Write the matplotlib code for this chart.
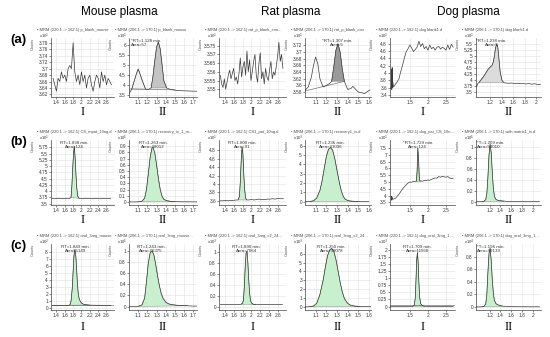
import numpy as np
import matplotlib.pyplot as plt
import matplotlib.transforms as mtrans

plt.rcParams['font.family'] = ['Liberation Sans', 'DejaVu Sans']

# ---- blank plasma (row a) ----
a1_x = [1.32,1.36,1.40,1.44,1.48,1.52,1.56,1.60,1.64,1.68,1.72,1.76,1.80,1.84,1.88,1.92,1.96,2.00,2.04,2.08,2.12,2.16,2.20,2.24,2.28,2.32,2.36,2.40,2.44,2.48,2.52,2.56,2.60,2.64,2.68,2.72]
a1_y = [3.67,3.65,3.63,3.67,3.66,3.69,3.67,3.68,3.66,3.70,3.71,3.70,3.78,3.69,3.66,3.68,3.65,3.69,3.66,3.68,3.64,3.67,3.68,3.65,3.63,3.66,3.68,3.67,3.64,3.69,3.66,3.68,3.65,3.67,3.66,3.65]
a2_x = [1.00,1.03,1.06,1.08,1.10,1.12,1.15,1.18,1.21,1.24,1.26,1.28,1.30,1.32,1.34,1.36,1.38,1.41,1.45,1.50,1.55,1.60,1.65,1.70,1.74]
a2_y = [3.55,3.80,4.25,4.55,4.80,4.55,4.15,3.80,3.78,3.85,4.40,5.20,5.90,6.15,5.80,5.00,4.20,3.85,3.78,3.74,3.72,3.71,3.70,3.69,3.69]
a3_x = [1.30,1.33,1.36,1.39,1.42,1.45,1.48,1.51,1.54,1.57,1.60,1.63,1.66,1.69,1.72,1.75,1.78,1.81,1.84,1.87,1.90,1.93,1.96,1.99,2.02,2.05,2.08,2.11,2.14,2.17,2.20,2.23,2.26,2.29,2.32,2.35,2.38,2.41,2.44,2.47,2.50,2.53,2.56,2.59,2.62,2.65,2.68,2.71]
a3_y = [3.558,3.553,3.551,3.556,3.550,3.554,3.558,3.561,3.556,3.559,3.562,3.555,3.557,3.553,3.559,3.568,3.557,3.563,3.566,3.558,3.572,3.560,3.567,3.555,3.560,3.566,3.570,3.558,3.554,3.565,3.571,3.556,3.560,3.553,3.562,3.557,3.555,3.561,3.566,3.556,3.560,3.558,3.563,3.569,3.577,3.566,3.570,3.562]
a4_x = [1.00,1.03,1.06,1.08,1.10,1.12,1.14,1.17,1.20,1.23,1.25,1.27,1.29,1.31,1.33,1.35,1.37,1.40,1.43,1.45,1.47,1.50,1.53,1.56,1.58,1.61]
a4_y = [3.585,3.595,3.625,3.660,3.685,3.665,3.620,3.595,3.600,3.605,3.612,3.655,3.705,3.725,3.700,3.650,3.612,3.588,3.590,3.597,3.590,3.580,3.578,3.575,3.580,3.586]
a5_x = [0.98,0.99,1.00,1.01,1.02,1.03,1.05,1.10,1.15,1.20,1.25,1.30,1.35,1.40,1.45,1.50,1.55,1.60,1.65,1.70,1.75,1.80,1.85,1.90,1.95,2.00,2.05,2.10,2.15,2.20,2.25,2.30,2.35,2.40,2.45,2.50,2.55,2.60,2.65,2.70]
a5_y = [3.60,4.10,3.55,4.15,3.60,3.75,3.62,3.70,3.76,3.85,4.05,4.22,4.42,4.58,4.66,4.76,4.68,4.58,4.64,4.70,4.86,4.72,4.80,4.66,4.72,4.62,4.76,4.66,4.70,4.62,4.70,4.72,4.65,4.70,4.67,4.62,4.76,4.64,4.78,4.70]
a6_x = [0.96,0.98,1.00,1.04,1.08,1.12,1.16,1.20,1.23,1.25,1.27,1.29,1.31,1.33,1.35,1.37,1.40,1.43,1.47,1.52,1.57,1.62,1.67,1.72,1.77,1.82,1.87,1.92,1.97,2.02,2.07]
a6_y = [3.72,3.85,3.90,4.02,4.15,4.30,4.45,4.55,4.62,4.75,5.00,5.35,5.50,5.35,4.85,4.35,4.00,3.90,3.88,3.87,3.88,3.86,3.87,3.85,3.86,3.84,3.86,3.83,3.85,3.82,3.83]

# ---- spiked plasma (row b) ----
b1_x = [1.30,1.36,1.42,1.48,1.54,1.60,1.66,1.71,1.75,1.77,1.79,1.81,1.83,1.85,1.87,1.89,1.91,1.94,1.98,2.04,2.10,2.16,2.22,2.28,2.34,2.40,2.46,2.52,2.58,2.64,2.70]
b1_y = [3.70,3.69,3.71,3.70,3.69,3.70,3.71,3.70,3.74,4.20,4.90,5.50,5.80,5.30,4.60,4.10,3.80,3.71,3.70,3.69,3.71,3.70,3.70,3.69,3.71,3.70,3.69,3.70,3.71,3.70,3.69]
b2_x = [1.00,1.05,1.10,1.14,1.17,1.19,1.21,1.23,1.25,1.26,1.28,1.30,1.32,1.34,1.36,1.38,1.41,1.45,1.50,1.55,1.60,1.65,1.70,1.74]
b2_y = [0.000,0.000,0.002,0.010,0.060,0.200,0.450,0.720,0.870,0.880,0.800,0.600,0.380,0.200,0.090,0.040,0.020,0.010,0.005,0.003,0.002,0.002,0.001,0.001]
b3_x = [1.30,1.36,1.42,1.48,1.54,1.60,1.66,1.70,1.73,1.75,1.77,1.79,1.81,1.83,1.85,1.87,1.90,1.94,2.00,2.06,2.12,2.18,2.24,2.30,2.36,2.42,2.48,2.54,2.60,2.66,2.72]
b3_y = [3.60,3.60,3.61,3.60,3.61,3.61,3.62,3.62,3.70,4.05,4.55,4.88,4.70,4.20,3.85,3.66,3.62,3.62,3.63,3.62,3.63,3.64,3.63,3.63,3.64,3.64,3.65,3.64,3.66,3.65,3.65]
b4_x = [1.00,1.04,1.08,1.11,1.14,1.16,1.18,1.20,1.22,1.24,1.26,1.28,1.30,1.32,1.34,1.36,1.38,1.41,1.45,1.50,1.55,1.60]
b4_y = [0.00,0.02,0.10,0.40,1.20,2.20,3.50,4.80,5.60,5.80,5.50,4.60,3.40,2.20,1.20,0.55,0.25,0.10,0.05,0.03,0.02,0.02]
b5_x = [0.98,0.99,1.00,1.01,1.03,1.06,1.10,1.15,1.20,1.25,1.30,1.35,1.40,1.45,1.50,1.55,1.60,1.65,1.68,1.70,1.72,1.74,1.76,1.78,1.81,1.85,1.90,1.95,2.00,2.05,2.10,2.15,2.20,2.25,2.30,2.35,2.40,2.45,2.50,2.55,2.60,2.65,2.70]
b5_y = [3.70,3.95,3.65,3.90,3.72,3.75,3.80,3.95,4.10,4.30,4.50,4.65,4.80,4.92,5.00,4.98,5.05,5.02,5.05,5.80,7.50,6.80,5.40,5.05,5.08,5.05,5.12,5.10,5.15,5.12,5.20,5.25,5.30,5.28,5.40,5.35,5.42,5.38,5.35,5.40,5.30,5.25,5.28]
b6_x = [0.96,1.00,1.05,1.10,1.13,1.15,1.17,1.19,1.21,1.23,1.25,1.27,1.29,1.31,1.34,1.38,1.42,1.47,1.55,1.65,1.75,1.85,1.95,2.05,2.12]
b6_y = [0.00,0.00,0.00,0.01,0.04,0.15,0.45,0.85,1.04,0.90,0.55,0.25,0.10,0.05,0.03,0.02,0.015,0.01,0.005,0.003,0.002,0.002,0.001,0.001,0.001]

# ---- oral dosing samples (row c) ----
c1_x = [1.30,1.40,1.50,1.60,1.66,1.72,1.75,1.78,1.80,1.82,1.84,1.86,1.88,1.90,1.92,1.94,1.97,2.00,2.04,2.08,2.14,2.20,2.30,2.40,2.50,2.60,2.70]
c1_y = [0.30,0.30,0.30,0.30,0.31,0.35,0.90,2.80,5.20,7.40,8.30,7.80,6.00,3.80,2.20,1.40,0.90,0.65,0.50,0.42,0.38,0.35,0.33,0.32,0.32,0.31,0.31]
c2_x = [1.00,1.05,1.10,1.14,1.17,1.19,1.21,1.23,1.25,1.27,1.29,1.31,1.33,1.35,1.37,1.40,1.43,1.47,1.52,1.58,1.64,1.70,1.74]
c2_y = [0.000,0.000,0.005,0.030,0.150,0.450,0.780,0.960,1.000,0.930,0.760,0.560,0.380,0.240,0.150,0.080,0.050,0.035,0.025,0.020,0.015,0.010,0.010]
c3_x = [1.30,1.40,1.50,1.60,1.70,1.76,1.80,1.82,1.84,1.86,1.88,1.90,1.92,1.94,1.96,1.98,2.01,2.05,2.10,2.20,2.30,2.40,2.50,2.60,2.70]
c3_y = [0.04,0.04,0.04,0.04,0.04,0.045,0.06,0.12,0.35,0.72,0.98,1.02,0.82,0.50,0.25,0.11,0.06,0.045,0.04,0.04,0.04,0.04,0.04,0.04,0.04]
c4_x = [1.00,1.04,1.08,1.11,1.14,1.17,1.19,1.21,1.23,1.25,1.27,1.29,1.31,1.33,1.35,1.37,1.40,1.43,1.47,1.52,1.57,1.62]
c4_y = [0.00,0.02,0.10,0.40,1.40,3.00,4.40,5.70,6.40,6.60,6.30,5.40,4.10,2.80,1.70,0.95,0.40,0.18,0.09,0.05,0.04,0.03]
c5_x = [0.96,1.00,1.10,1.20,1.30,1.40,1.50,1.58,1.62,1.65,1.67,1.69,1.71,1.73,1.75,1.77,1.80,1.85,1.90,2.00,2.10,2.20,2.30,2.40,2.50,2.60,2.70]
c5_y = [0.00,0.00,0.00,0.00,0.00,0.00,0.00,0.01,0.04,0.30,0.95,1.65,1.90,1.55,0.85,0.35,0.10,0.03,0.01,0.01,0.00,0.00,0.00,0.00,0.00,0.00,0.00]
c6_x = [0.96,1.00,1.05,1.10,1.13,1.15,1.17,1.19,1.21,1.23,1.25,1.27,1.29,1.32,1.36,1.40,1.45,1.55,1.65,1.75,1.85,1.95,2.05,2.12]
c6_y = [0.00,0.00,0.00,0.01,0.05,0.20,0.55,0.85,0.93,0.75,0.45,0.22,0.10,0.05,0.03,0.02,0.01,0.005,0.003,0.002,0.002,0.001,0.001,0.001]

# tick positions
xt_I = [1.4,1.6,1.8,2.0,2.2,2.4,2.6]
xt_mII = [1.1,1.2,1.3,1.4,1.5,1.6,1.7]
xt_rII = [1.1,1.2,1.3,1.4,1.5,1.6]
xt_dI = [1.5,2.0,2.5]
xt_dII = [1.2,1.4,1.6,1.8,2.0]

col_names = ['Mouse plasma', 'Rat plasma', 'Dog plasma']
row_labels = ['(a)', '(b)', '(c)']
roman = ['I', 'II', 'I', 'II', 'I', 'II']

T1 = u'\u2022 MRM (220.1 -> 162.1) '
T2 = u'\u2022 MRM (206.1 -> 170.1) '

# (row, col, x, y, fills, baseline, xlim, ylim, xticks, yticks, title, exponent, annotation, annot_x, annot_ha)
panels = [
    (0, 0, a1_x, a1_y, [], None, (1.27,2.78), (3.612,3.795), xt_I, [3.62,3.64,3.66,3.68,3.70,3.72,3.74,3.76,3.78], T1+'p_blank_mouse', 1, '', 0, 'center'),
    (0, 1, a2_x, a2_y, [(1,8,'#f2f2f2'),(9,18,'#c4c4c4')], ([1.0,1.5],[3.80,3.76]), (1.0,1.74), (3.4,6.35), xt_mII, [3.5,4,4.5,5,5.5,6], T2+'p_blank_mouse', 1, '*RT=1.128 min.\nArea=57', 1.02, 'left'),
    (0, 2, a3_x, a3_y, [], None, (1.27,2.78), (3.5455,3.5795), xt_I, [3.55,3.555,3.56,3.565,3.57,3.575], T1+'rat_p_blank_con...', 1, '', 0, 'center'),
    (0, 3, a4_x, a4_y, [(10,17,'#9a9a9a')], ([1.0,1.37],[3.583,3.612]), (1.0,1.62), (3.565,3.742), xt_rII, [3.58,3.60,3.62,3.64,3.66,3.68,3.70,3.72], T2+'rat_p_blank_con', 1, '*RT=1.307 min.\nArea=5', 1.30, 'center'),
    (0, 4, a5_x, a5_y, [], None, (0.95,2.75), (3.35,4.95), xt_dI, [3.4,3.6,3.8,4.0,4.2,4.4,4.6,4.8], T1+'dog blank1.d', 1, '', 0, 'center'),
    (0, 5, a6_x, a6_y, [(2,18,'#dcdcdc')], None, (0.95,2.08), (3.3,5.75), xt_dII, [3.5,3.75,4,4.25,4.5,4.75,5,5.25,5.5], T2+'dog blank1.d', 1, '*RT=1.238 min.\nArea=5', 1.22, 'center'),
    (1, 0, b1_x, b1_y, [(8,18,'#c8f0cf')], None, (1.27,2.78), (3.44,6.05), xt_I, [3.5,3.75,4,4.25,4.5,4.75,5,5.25,5.5,5.75], T1+'CS_mpat_10ng.d', 1, 'RT=1.838 min.\nArea=124', 1.83, 'center'),
    (1, 1, b2_x, b2_y, [(2,19,'#c8f0cf')], None, (1.0,1.74), (-0.05,1.0), xt_mII, [0,0.1,0.2,0.3,0.4,0.5,0.6,0.7,0.8,0.9], T2+'recovery_is_1_m...', 5, 'RT=1.263 min.\nArea=48012', 1.26, 'center'),
    (1, 2, b3_x, b3_y, [(7,17,'#c8f0cf')], None, (1.27,2.78), (3.5,5.05), xt_I, [3.6,3.8,4.0,4.2,4.4,4.6,4.8], T1+'CS1_pat_10ng.d', 1, 'RT=1.800 min.\nArea=91', 1.80, 'center'),
    (1, 3, b4_x, b4_y, [(1,20,'#c8f0cf')], None, (1.0,1.62), (-0.35,6.6), xt_rII, [0,1,2,3,4,5,6], T2+'recovery1_is.d', 3, 'RT=1.236 min.\nArea=31036', 1.24, 'center'),
    (1, 4, b5_x, b5_y, [(18,24,'#b8e8c0')], None, (0.95,2.75), (3.3,8.1), xt_dI, [3.5,4,4.5,5,5.5,6,6.5,7,7.5], T1+'dog_pat_CS_10n...', 1, '*RT=1.729 min.\nArea=124', 1.72, 'center'),
    (1, 5, b6_x, b6_y, [(2,18,'#c8f0cf')], None, (0.95,2.15), (-0.06,1.12), xt_dII, [0,0.2,0.4,0.6,0.8,1.0], T2+'with matrix1_is.d', 5, '*T=1.209 min.\nArea=53010', 0.97, 'left'),
    (2, 0, c1_x, c1_y, [(5,22,'#c8f0cf')], ([1.27,2.78],[0.42,0.42]), (1.27,2.78), (-0.35,9.1), xt_I, [0,1,2,3,4,5,6,7,8], T1+'oral_3mg_mouse', 2, 'RT=1.849 min.\nArea=5149', 1.85, 'center'),
    (2, 1, c2_x, c2_y, [(2,21,'#c8f0cf')], None, (1.0,1.74), (-0.06,1.12), xt_mII, [0,0.2,0.4,0.6,0.8,1.0], T2+'oral_3mg_mouse...', 5, 'RT=1.243 min.\nArea=76375', 1.24, 'center'),
    (2, 2, c3_x, c3_y, [(5,19,'#c8f0cf')], None, (1.27,2.78), (-0.06,1.15), xt_I, [0,0.2,0.4,0.6,0.8,1.0], T1+'oral_3mg_c2_24...', 3, 'RT=1.890 min.\nArea=7064', 1.89, 'center'),
    (2, 3, c4_x, c4_y, [(1,20,'#c8f0cf')], None, (1.0,1.62), (-0.35,7.1), xt_rII, [0,1,2,3,4,5,6], T2+'oral_3mg_c2_24...', 3, 'RT=1.250 min.\nArea=39078', 1.25, 'center'),
    (2, 4, c5_x, c5_y, [(7,19,'#c8f0cf')], ([0.95,2.75],[0.07,0.07]), (0.95,2.75), (-0.12,2.2), xt_dI, [0,0.25,0.5,0.75,1,1.25,1.5,1.75,2], T1+'dog_oral_3mg_1...', 3, 'RT=1.709 min.\nArea=11550', 1.71, 'center'),
    (2, 5, c6_x, c6_y, [(2,17,'#c8f0cf')], None, (0.95,2.15), (-0.05,1.0), xt_dII, [0,0.2,0.4,0.6,0.8], T2+'dog_oral_3mg_1...', 4, '*T=1.196 min.\nArea=49139', 0.97, 'left'),
]

W, H = 550, 337
col_l = [51, 129, 219, 305, 390, 476]
col_r = [114, 197, 286, 371, 455, 541]
row_t = [38, 140, 244]
row_b = [97, 205, 310]
row_title = [30, 132, 236]
row_roman = [112, 220, 327]

fig = plt.figure(figsize=(5.5, 3.37), dpi=100)

def rect(l, t, r, b):
    return [l/W, 1 - b/H, (r - l)/W, (b - t)/H]

for (row, col, x, y, fills, base, xlim, ylim, xt, yt, title, expo, annot, ax_x, ha) in panels:
    ax = fig.add_axes(rect(col_l[col], row_t[row], col_r[col], row_b[row]))
    x = np.array(x)
    y = np.array(y)
    for (i0, i1, fc) in fills:
        ax.fill(x[i0:i1], y[i0:i1], facecolor=fc, edgecolor='#6a8a6a' if row > 0 else '#777777', lw=0.3, zorder=2)
    if base is not None:
        ax.plot(base[0], base[1], color='#555555', lw=0.4, zorder=3)
    ax.plot(x, y, color='#3a3a3a', lw=0.5, zorder=4)
    ax.set_xlim(xlim)
    ax.set_ylim(ylim)
    ax.set_xticks(xt)
    ax.set_yticks(yt)
    ax.set_xticklabels(['%g' % v for v in xt])
    ax.set_yticklabels(['%g' % v for v in yt])
    ax.tick_params(labelsize=3.4, length=1.2, width=0.4, pad=1, colors='#333333')
    ax.grid(True, color='#e2e2e2', lw=0.4)
    ax.set_axisbelow(True)
    for s in ['top', 'right']:
        ax.spines[s].set_visible(False)
    for s in ['left', 'bottom']:
        ax.spines[s].set_linewidth(0.5)
        ax.spines[s].set_color('#444444')
    if annot:
        tr = mtrans.blended_transform_factory(ax.transData, ax.transAxes)
        ax.text(ax_x, 0.99, annot, transform=tr, ha=ha, va='top', fontsize=3.2,
                color='#333333', linespacing=1.0, zorder=5)
    l = col_l[col]
    fig.text((l - 14)/W, 1 - row_title[row]/H, title, fontsize=2.9, color='#4a4a4a',
             ha='left', va='center')
    fig.text((l - 12)/W, 1 - (row_t[row] - 2)/H, r'x10$^{%d}$' % expo, fontsize=3.0,
             color='#333333', ha='left', va='center')
    fig.text((l - 18)/W, 1 - (row_t[row] + 6)/H, 'Counts', fontsize=2.8, rotation=90,
             color='#555555', ha='center', va='center')
    fig.text((l + col_r[col])/2/W, 1 - row_roman[row]/H, roman[col], fontsize=9,
             family='Liberation Serif', ha='center', va='center')

for i in range(3):
    fig.text([119, 291, 468][i]/W, 1 - 12/H, col_names[i], fontsize=8.5,
             ha='center', va='center')
    fig.text(10/W, 1 - (row_t[i] + 2)/H, row_labels[i], fontsize=9.5,
             weight='bold', ha='left', va='center')

plt.savefig('out.png', dpi=100)
plt.close()
